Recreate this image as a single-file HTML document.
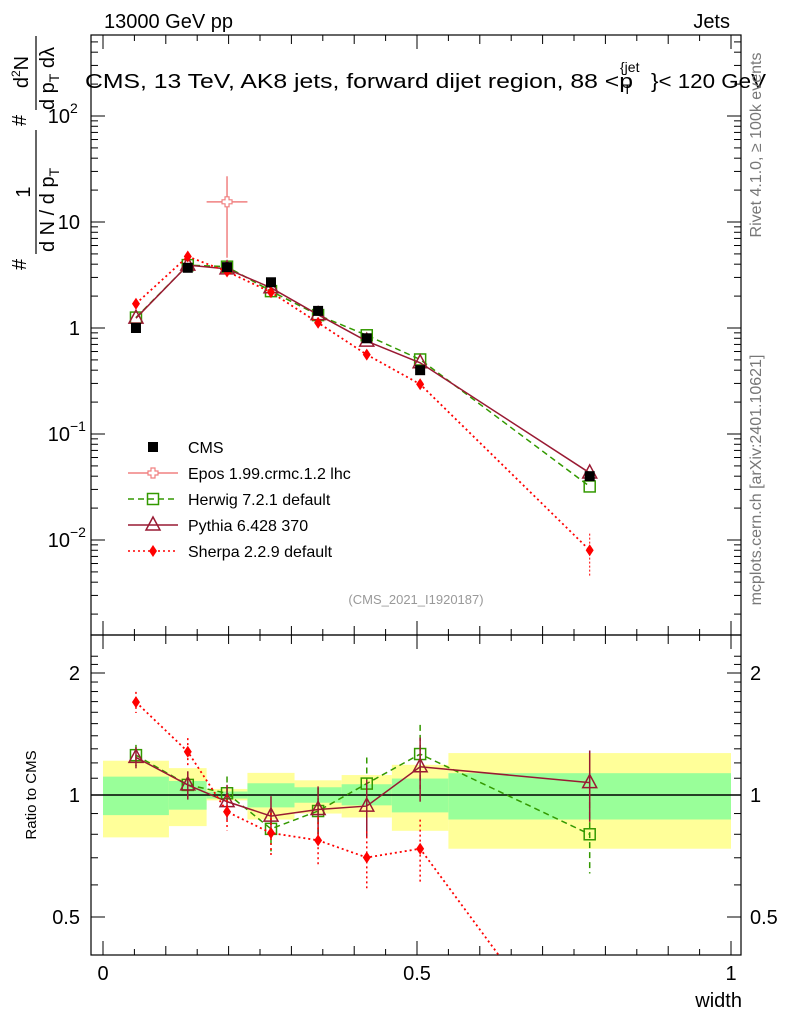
<!DOCTYPE html>
<html><head><meta charset="utf-8"><style>
html,body{margin:0;background:#fff;overflow:hidden;width:786px;height:1024px;}
svg{display:block;font-family:"Liberation Sans",sans-serif;}
</style></head><body>
<svg id="c" width="786" height="1024" viewBox="0 0 786 1024" xmlns="http://www.w3.org/2000/svg">
<g id="bands"></g>
<g id="axes"></g>
<g id="series"></g>
<g id="labels">
<text x="104" y="28" font-size="20">13000 GeV pp</text>
<text x="730" y="28" font-size="20" text-anchor="end">Jets</text>
<g font-size="20">
<text x="85" y="88" textLength="548" lengthAdjust="spacingAndGlyphs">CMS, 13 TeV, AK8 jets, forward dijet region, 88 &lt;p</text>
<text x="623" y="94" font-size="14">T</text>
<text x="620" y="72" font-size="14">{jet</text>
<text x="651" y="88" textLength="115" lengthAdjust="spacingAndGlyphs">}&lt; 120 GeV</text>
</g>
<g transform="translate(0,272) rotate(-90)" font-size="20">
 <text x="2" y="26">#</text>
 <text x="80" y="30" text-anchor="middle">1</text>
 <line x1="18" x2="142" y1="36" y2="36" stroke="#000" stroke-width="1.2"/>
 <text x="20" y="54">d N / d p<tspan font-size="14" dy="5">T</tspan></text>
 <text x="146" y="26">#</text>
 <text x="200" y="28" text-anchor="middle">d<tspan font-size="12" dy="-8">2</tspan><tspan dy="8">N</tspan></text>
 <line x1="162" x2="236" y1="36" y2="36" stroke="#000" stroke-width="1.2"/>
 <text x="162" y="54">d p<tspan font-size="14" dy="5">T</tspan><tspan dy="-5"> dλ</tspan></text>
</g>
<text transform="translate(761,145) rotate(-90)" font-size="16" fill="#777" text-anchor="middle">Rivet 4.1.0, ≥ 100k events</text>
<text transform="translate(761,480) rotate(-90)" font-size="16" fill="#777" text-anchor="middle">mcplots.cern.ch [arXiv:2401.10621]</text>
<text x="416" y="604" font-size="13" fill="#999" text-anchor="middle">(CMS_2021_I1920187)</text>
<text transform="translate(36,795) rotate(-90)" font-size="15" text-anchor="middle">Ratio to CMS</text>
<text x="742" y="1007" font-size="20" text-anchor="end">width</text>
</g>
<g id="legend"></g>
</svg>
<script>
const xCenters=[0.0525,0.135,0.1975,0.2675,0.3425,0.42,0.505,0.775];
const binEdges=[0,0.105,0.165,0.23,0.305,0.38,0.46,0.55,1];
const cmsValues=[1.0,3.7,3.75,2.7,1.45,0.8,0.4,0.04];
const herwigRatio=[1.254,1.059,1.01,0.825,0.913,1.067,1.262,0.80];
const pythiaRatio=[1.238,1.059,0.963,0.887,0.921,0.939,1.174,1.073];
const sherpaRatio=[1.695,1.279,0.909,0.806,0.773,0.701,0.737,0.2];
const eposX=[0.1975];const eposValues=[15.5];const eposHi=[27];const eposLo=[4.6];
const yellowHi=[1.215,1.165,1.035,1.134,1.087,1.12,1.187,1.269];
const yellowLo=[0.786,0.838,0.97,0.87,0.90,0.88,0.816,0.737];
const greenHi=[1.11,1.083,1.02,1.069,1.045,1.063,1.098,1.132];
const greenLo=[0.892,0.92,0.98,0.932,0.957,0.943,0.906,0.87];
const xTicks=[0,0.5,1];const xTickLabels=["0","0.5","1"];
const ratioTicks=[0.5,1,2];const ratioTickLabels=["0.5","1","2"];

const NS="http://www.w3.org/2000/svg";
const X=v=>103+628*v;
const Y=v=>328-106*Math.log10(v);
const R=v=>795-122*Math.log2(v);
const L=91,Rt=741,T=35,MB=635,RB=955;
function mk(p,tag,at){const e=document.createElementNS(NS,tag);for(const k in at)e.setAttribute(k,at[k]);p.appendChild(e);return e;}
const bands=document.getElementById('bands'),axes=document.getElementById('axes'),ser=document.getElementById('series'),leg=document.getElementById('legend');
for(let i=0;i<8;i++){
 const x0=X(binEdges[i]),x1=X(binEdges[i+1]);
 let e=mk(bands,'rect',{x:x0,y:R(yellowHi[i]),width:x1-x0,height:R(yellowLo[i])-R(yellowHi[i]),fill:'#ffff99'});
 
 
 e=mk(bands,'rect',{x:x0,y:R(greenHi[i]),width:x1-x0,height:R(greenLo[i])-R(greenHi[i]),fill:'#99ff99'});
 
 
}
mk(bands,'line',{x1:L,x2:Rt,y1:R(1),y2:R(1),stroke:'#000','stroke-width':1.5});
let f=mk(axes,'rect',{x:91,y:T,width:650,height:MB-T,fill:'none',stroke:'#000','stroke-width':1.2});

f=mk(axes,'rect',{x:91,y:MB,width:650,height:RB-MB,fill:'none',stroke:'#000','stroke-width':1.2});

for(let k=0;k<=20;k++){const v=k*0.05;if(X(v)>741)continue;const big=(k%10==0)?14:(k%2==0?9:6);
 [[T,1],[MB,-1],[MB,1],[RB,-1]].forEach(([y,d])=>mk(axes,'line',{x1:X(v),x2:X(v),y1:y,y2:y+d*big,stroke:'#000'}));}
xTicks.forEach((v,i)=>{const t=mk(axes,'text',{x:X(v),y:980,'font-size':20,'text-anchor':'middle'});t.textContent=xTickLabels[i];
 });
for(let d=-3;d<=2;d++){for(let m=1;m<10;m++){const v=m*Math.pow(10,d);const y=Y(v);if(y<T||y>MB)continue;const len=m==1?14:7;
 mk(axes,'line',{x1:91,x2:91+len,y1:y,y2:y,stroke:'#000'});mk(axes,'line',{x1:741,x2:741-len,y1:y,y2:y,stroke:'#000'});}}
[[100,"10","2"],[10,"10",""],[1,"1",""],[0.1,"10","−1"],[0.01,"10","−2"]].forEach(([v,b,e])=>{
 const t=mk(axes,'text',{x:e?70:80,y:Y(v)+7,'font-size':20,'text-anchor':'end'});t.textContent=b;
 
 if(e){const s=mk(axes,'text',{x:70,y:Y(v)-3,'font-size':14});s.textContent=e;}});
for(let v=0.4;v<=2.3;v+=0.1){const y=R(v);if(y<MB||y>RB)continue;const major=[0.5,1,2].some(q=>Math.abs(q-v)<1e-6);const len=major?14:7;
 mk(axes,'line',{x1:91,x2:91+len,y1:y,y2:y,stroke:'#000'});mk(axes,'line',{x1:741,x2:741-len,y1:y,y2:y,stroke:'#000'});}
ratioTicks.forEach((v,i)=>{[[80,'end'],[750,'start']].forEach(([x,a])=>{const t=mk(axes,'text',{x:x,y:R(v)+7,'font-size':20,'text-anchor':a});t.textContent=ratioTickLabels[i];
 });});
function marker(g,type,x,y,col){
 if(type=='sq')return mk(g,'rect',{x:x-5,y:y-5,width:10,height:10,fill:col});
 if(type=='osq')return mk(g,'rect',{x:x-5.5,y:y-5.5,width:11,height:11,fill:'none',stroke:col,'stroke-width':1.5});
 if(type=='tri')return mk(g,'path',{d:`M${x},${y-8}L${x+7},${y+5}L${x-7},${y+5}Z`,fill:'none',stroke:col,'stroke-width':1.5});
 if(type=='dia')return mk(g,'path',{d:`M${x},${y-6}L${x+4},${y}L${x},${y+6}L${x-4},${y}Z`,fill:col});
 if(type=='cross')return mk(g,'path',{d:`M${x-2},${y-5}h4v3h3v4h-3v3h-4v-3h-3v-4h3Z`,fill:'#fff',stroke:col,'stroke-width':1.2});
}
const series=[
 {name:'herwig',ratio:herwigRatio,col:'#339900',dash:'6,4',m:'osq',w:1.5},
 {name:'pythia',ratio:pythiaRatio,col:'#991a33',dash:'',m:'tri',w:1.5},
 {name:'sherpa',ratio:sherpaRatio,col:'#ff0000',dash:'2,3',m:'dia',w:1.8}];
const cp=mk(ser,'clipPath',{id:'rc'});mk(cp,'rect',{x:91,y:MB,width:650,height:RB-MB});
const cm=mk(ser,'clipPath',{id:'mc'});mk(cm,'rect',{x:91,y:T,width:650,height:MB-T});
series.forEach(s=>{
 const gm=mk(ser,'g',{'clip-path':'url(#mc)'});
 const gr=mk(ser,'g',{'clip-path':'url(#rc)'});
 const vals=cmsValues.map((c,i)=>c*s.ratio[i]);
 mk(gm,'polyline',{points:xCenters.map((x,i)=>X(x)+','+Y(vals[i])).join(' '),fill:'none',stroke:s.col,'stroke-width':s.w,'stroke-dasharray':s.dash});
 mk(gr,'polyline',{points:xCenters.map((x,i)=>X(x)+','+R(s.ratio[i])).join(' '),fill:'none',stroke:s.col,'stroke-width':s.w,'stroke-dasharray':s.dash});
 xCenters.forEach((x,i)=>{
  const e=0.06+0.02*i;
  mk(gr,'line',{x1:X(x),x2:X(x),y1:R(s.ratio[i]*(1+e)),y2:R(s.ratio[i]*(1-e)),stroke:s.col,'stroke-width':1.5,'stroke-dasharray':s.dash});
  let mm=marker(gm,s.m,X(x),Y(vals[i]),s.col);
  mm=marker(gr,s.m,X(x),R(s.ratio[i]),s.col);
 });
});
mk(ser,'line',{x1:X(0.775),x2:X(0.775),y1:Y(0.0115),y2:Y(0.0045),stroke:'#ff0000','stroke-dasharray':'2,2'});
xCenters.forEach((x,i)=>{const m=marker(ser,'sq',X(x),Y(cmsValues[i]),'#000');});
eposX.forEach((x,i)=>{const g=mk(ser,'g',{});
 mk(g,'line',{x1:X(x),x2:X(x),y1:Y(eposHi[i]),y2:Y(eposLo[i]),stroke:'#f08080','stroke-width':1.5});
 mk(g,'line',{x1:X(0.165),x2:X(0.23),y1:Y(eposValues[i]),y2:Y(eposValues[i]),stroke:'#f08080','stroke-width':1.5});
 marker(g,'cross',X(x),Y(eposValues[i]),'#f08080');});
const legItems=[['CMS','sq','#000',''],['Epos 1.99.crmc.1.2 lhc','cross','#f08080',''],['Herwig 7.2.1 default','osq','#339900','6,4'],['Pythia 6.428 370','tri','#991a33',''],['Sherpa 2.2.9 default','dia','#ff0000','2,3']];
legItems.forEach((it,i)=>{const y=447+26*i;const g=mk(leg,'g',{});
 if(i>0)mk(g,'line',{x1:128,x2:178,y1:y,y2:y,stroke:it[2],'stroke-width':1.5,'stroke-dasharray':it[3]});
 marker(g,it[1],153,y,it[2]);const t=mk(g,'text',{x:188,y:y+6,'font-size':16});t.textContent=it[0];});
</script>
</body></html>
